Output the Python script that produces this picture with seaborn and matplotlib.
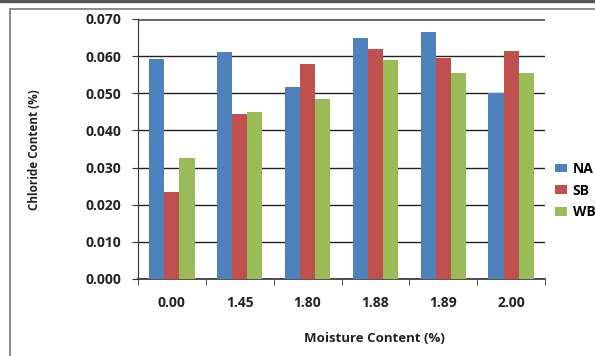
import numpy as np
import pandas as pd
import seaborn as sns
import matplotlib.pyplot as plt
from matplotlib.patches import Rectangle

# --- data ---
moisture = ["0.00", "1.45", "1.80", "1.88", "1.89", "2.00"]
na_vals = [0.0593, 0.0612, 0.0518, 0.0650, 0.0666, 0.0500]
sb_vals = [0.0234, 0.0445, 0.0578, 0.0618, 0.0596, 0.0614]
wb_vals = [0.0326, 0.0450, 0.0485, 0.0590, 0.0555, 0.0555]
series = ["NA", "SB", "WB"]
colors = ["#4F81BD", "#C0504D", "#9BBB59"]

df = pd.DataFrame({
    "moisture": moisture * 3,
    "value": na_vals + sb_vals + wb_vals,
    "type": [s for s in series for _ in moisture],
})

plt.rcParams["font.family"] = ["Open Sans", "DejaVu Sans"]

fig = plt.figure(figsize=(5.95, 3.56), dpi=100)
ax = fig.add_axes([138 / 595, 1 - 279 / 356, (545 - 138) / 595, (279 - 19) / 356])

sns.barplot(data=df, x="moisture", y="value", hue="type", palette=colors,
            width=0.67, saturation=1, ax=ax, zorder=3)

ax.set_ylim(0, 0.070)
ax.set_yticks(np.arange(0, 0.0701, 0.010))
ax.set_yticklabels([f"{v:.3f}" for v in np.arange(0, 0.0701, 0.010)])
ax.set_xlim(-0.5, len(moisture) - 0.5)
ax.yaxis.grid(True, color="#222222", linewidth=1.0, zorder=0)
ax.set_axisbelow(True)
for sp in ["top", "right"]:
    ax.spines[sp].set_visible(False)
ax.spines["left"].set_color("#333333")
ax.spines["bottom"].set_color("#333333")
ax.spines["bottom"].set_linewidth(1.2)
ax.axhline(0.070, color="#666666", linewidth=2.0, zorder=1)

# tick marks between categories on the x axis
ax.set_xticks(np.arange(len(moisture)))
ax.set_xticklabels(moisture)
ax.set_xticks(np.arange(-0.5, len(moisture)), minor=True)
ax.tick_params(axis="x", which="major", length=0, pad=12)
ax.tick_params(axis="x", which="minor", length=4, color="#333333")
ax.tick_params(axis="y", length=4, color="#333333", pad=8)
for lbl in ax.get_xticklabels() + ax.get_yticklabels():
    lbl.set_fontweight("bold")
    lbl.set_fontsize(10)
    lbl.set_color("#222222")

ax.set_xlabel("")
ax.set_ylabel("")
fig.text(35 / 595, 1 - 150 / 356, "Chloride Content (%)", rotation=90,
         ha="center", va="center", fontsize=8.5, fontweight="bold", color="#222222")
fig.text(374 / 595, 1 - 338 / 356, "Moisture Content (%)",
         ha="center", va="center", fontsize=9.5, fontweight="bold", color="#222222")

leg = ax.legend(loc="center left", bbox_to_anchor=(1.0, 0.34), frameon=False,
                handlelength=0.9, handleheight=0.6, handletextpad=0.4,
                labelspacing=0.55, borderaxespad=0.3)
for t in leg.get_texts():
    t.set_fontweight("bold")
    t.set_fontsize(10)

# outer chart frame
fig.patches.append(Rectangle((10 / 595, -0.05), 1.0, 1 - 9 / 356 + 0.05,
                             transform=fig.transFigure, fill=False,
                             edgecolor="#777777", linewidth=1.2))
fig.patches.append(Rectangle((0, 1 - 2 / 356), 1.0, 2 / 356,
                             transform=fig.transFigure, color="#555555"))

fig.savefig("out.png", dpi=100)
